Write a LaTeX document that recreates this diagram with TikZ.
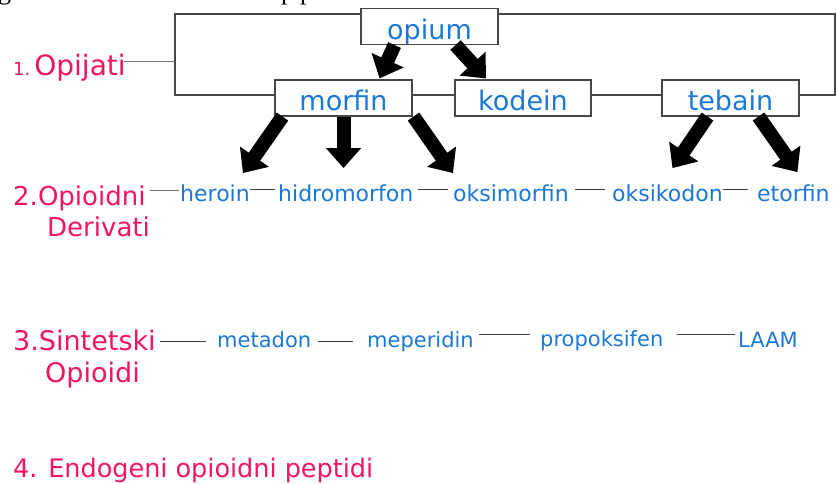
\documentclass[tikz,border=0pt]{standalone}
\usepackage{fontspec}
\setmainfont{DejaVu Sans}
\newfontfamily\serifcut{Liberation Serif}
\usetikzlibrary{arrows.meta}

\definecolor{drugblue}{RGB}{28,120,215}
\definecolor{clspink}{RGB}{245,20,100}
\definecolor{framegray}{RGB}{70,70,70}

\tikzset{
  box/.style={draw=framegray, line width=1.1pt, fill=white, minimum width=137pt,
    minimum height=36pt, inner sep=0pt, text height=30pt, text depth=5pt,
    text=drugblue, font=\fontsize{27}{30}\selectfont},
  drug/.style={inner sep=0pt, text=drugblue, font=\fontsize{22}{26}\selectfont},
  drugsm/.style={inner sep=0pt, text=drugblue, font=\fontsize{21}{25}\selectfont},
  cls/.style={inner sep=0pt, text=clspink, font=\fontsize{26}{30}\selectfont},
  cutoff/.style={anchor=base west, inner sep=0pt, font=\serifcut\fontsize{26}{30}\selectfont},
  frameline/.style={draw=framegray, line width=1.1pt},
  link/.style={draw=black!75, line width=1pt},
  faintlink/.style={draw=black!55, line width=0.8pt},
  fat/.style={line width=14pt, -{Triangle[width=34pt,length=20pt]}}
}

\begin{document}
\begin{tikzpicture}[x=1pt,y=-1pt]
\useasboundingbox[fill=white] (0,0) rectangle (837,483);

% descenders of the cut-off line above
\node[cutoff] (cutg) at (-2,-1) {g};
\node[cutoff] (cutp) at (281,-1) {p};
\node[cutoff] (cutq) at (300,-1) {p};

% frame corners
\coordinate (tl) at (175,14);
\coordinate (bl) at (175,95);
\coordinate (tr) at (835,14);
\coordinate (br) at (835,95);
\coordinate (ml) at (175,61);

% natural opiates
\node[box] (opium)  at (429.5,26.5) {opium};
\node[box] (morfin) at (343.5,98) {morfin};
\node[box, minimum width=136pt] (kodein) at (523,98) {kodein};
\node[box] (tebain) at (730.5,98) {tebain};

\draw[frameline] (opium.west |- tl) -- (tl) -- (bl) -- (morfin.west |- bl);
\draw[frameline] (morfin.east |- bl) -- (kodein.west |- bl);
\draw[frameline] (kodein.east |- bl) -- (tebain.west |- bl);
\draw[frameline] (tebain.east |- bl) -- (br) -- (tr) -- (opium.east |- tr);

\node[cls, anchor=base west, font=\fontsize{28}{32}\selectfont] (opijati) at (13,75)
  {{\fontsize{18}{20}\selectfont 1.}\hspace{4pt}Opijati};
\draw[faintlink] ([xshift=-2pt]opijati.east |- ml) -- (ml);

% opioid derivatives
\node[cls, anchor=base west] (der1) at (13,205) {2.Opioidni};
\node[cls, anchor=base west] (der2) at (47,236) {Derivati};

\node[drug, anchor=base west] (heroin)      at (180,201) {heroin};
\node[drug, anchor=base west] (hidromorfon) at (278,201) {hidromorfon};
\node[drug, anchor=base west] (oksimorfin)  at (453,201) {oksimorfin};
\node[drug, anchor=base west] (oksikodon)   at (612,201) {oksikodon};
\node[drug, anchor=base west] (etorfin)     at (757,201) {etorfin};

\draw[faintlink] ([xshift=4pt,yshift=15pt]der1.base east) -- ([xshift=-1pt,yshift=11pt]heroin.base west);
\draw[link] ([yshift=12pt]heroin.base east) -- ([xshift=-3pt,yshift=12pt]hidromorfon.base west);
\draw[link] ([xshift=4pt,yshift=12pt]hidromorfon.base east) -- ([xshift=-5pt,yshift=12pt]oksimorfin.base west);
\draw[link] ([xshift=6pt,yshift=12pt]oksimorfin.base east) -- ([xshift=-7pt,yshift=12pt]oksikodon.base west);
\draw[link] ([yshift=12pt]oksikodon.base east) -- ([xshift=-9pt,yshift=12pt]etorfin.base west);

% synthetic opioids
\node[cls, anchor=base west, font=\fontsize{27}{30}\selectfont] (sin1) at (13,350) {3.Sintetski};
\node[cls, anchor=base west, font=\fontsize{27}{30}\selectfont] (sin2) at (45,382) {Opioidi};

\node[drugsm, anchor=base west] (metadon)     at (217,347) {metadon};
\node[drugsm, anchor=base west] (meperidin)   at (367,347) {meperidin};
\node[drugsm, anchor=base west] (propoksifen) at (540,346) {propoksifen};
\node[drugsm, anchor=base west] (laam)        at (738,347) {LAAM};

\draw[link] ([xshift=4pt,yshift=9pt]sin1.base east) -- ([xshift=-11pt,yshift=6pt]metadon.base west);
\draw[link] ([xshift=7pt,yshift=6pt]metadon.base east) -- ([xshift=-14pt,yshift=6pt]meperidin.base west);
\draw[link] ([xshift=5pt,yshift=13pt]meperidin.base east) -- ([xshift=-10pt,yshift=12pt]propoksifen.base west);
\draw[link] ([xshift=14pt,yshift=12pt]propoksifen.base east) -- ([xshift=-3pt,yshift=13pt]laam.base west);

% endogenous peptides
\node[cls, anchor=base west, font=\fontsize{25.5}{30}\selectfont] (endo) at (13,477) {4. Endogeni opioidni peptidi};

% derivation arrows
\draw[fat] ([xshift=-35pt]opium.south) -- ([xshift=36pt,yshift=1pt]morfin.north);
\draw[fat] ([xshift=26pt]opium.south) -- ([xshift=-37pt,yshift=1pt]kodein.north);

\draw[fat] ([xshift=-61pt]morfin.south) -- ([xshift=-7pt,yshift=11pt]heroin.north east);
\draw[fat] (morfin.south) -- ([yshift=16pt]hidromorfon.north -| morfin.south);
\draw[fat] ([xshift=70pt]morfin.south) -- ([yshift=11pt]oksimorfin.north west);

\draw[fat] ([xshift=-23pt]tebain.south) -- ([xshift=5pt,yshift=16pt]oksikodon.north);
\draw[fat] ([xshift=28pt]tebain.south) -- ([xshift=4pt,yshift=12pt]etorfin.north);
\end{tikzpicture}
\end{document}
